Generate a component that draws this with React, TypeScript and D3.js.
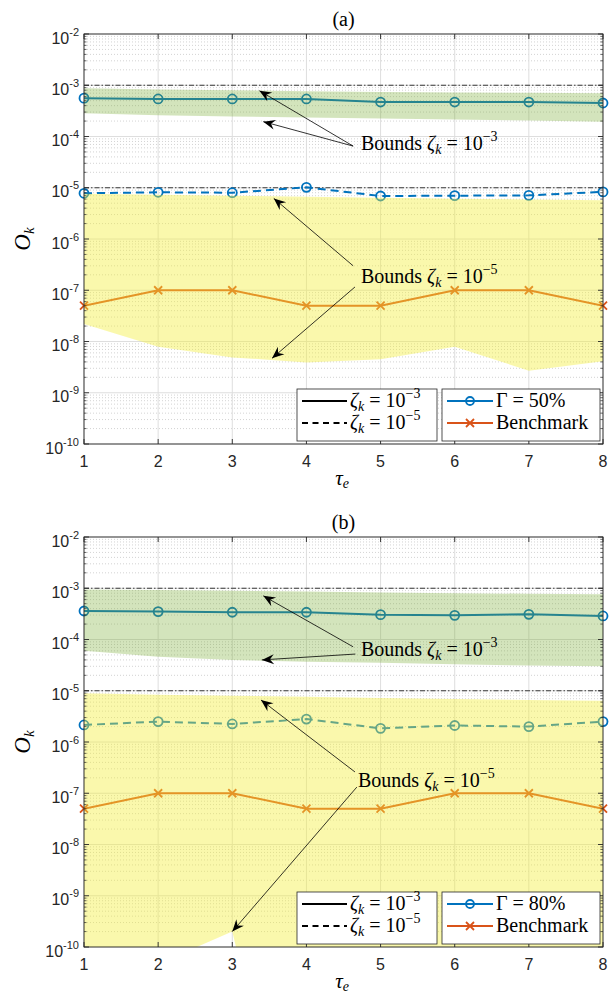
import React from "react";
import * as d3 from "d3";

// x axis: tau_e
const tau = [1, 2, 3, 4, 5, 6, 7, 8];
const yDecades = [-10, -9, -8, -7, -6, -5, -4, -3, -2];
const zetaLevels = [1e-3, 1e-5];

const benchmark = [5e-8, 1e-7, 1e-7, 5e-8, 5e-8, 1e-7, 1e-7, 5e-8];

// panel (a): Gamma = 50%
const gammaA3 = [5.6e-4, 5.4e-4, 5.4e-4, 5.4e-4, 4.7e-4, 4.7e-4, 4.7e-4, 4.5e-4];
const gammaA5 = [7.8e-6, 8.15e-6, 8.0e-6, 1.02e-5, 6.9e-6, 7.0e-6, 7.1e-6, 8.3e-6];
const bandA3Hi = [8.7e-4, 8.3e-4, 8.0e-4, 7.6e-4, 7.4e-4, 7.2e-4, 7.1e-4, 7.0e-4];
const bandA3Lo = [2.85e-4, 2.6e-4, 2.45e-4, 2.35e-4, 2.25e-4, 2.15e-4, 2.05e-4, 1.95e-4];
const bandA5Hi = [7.6e-6, 7.3e-6, 7.0e-6, 6.7e-6, 6.4e-6, 6.1e-6, 5.9e-6, 5.7e-6];
const bandA5Lo = [2.2e-8, 7.9e-9, 4.9e-9, 3.9e-9, 4.5e-9, 7.9e-9, 2.7e-9, 4.1e-9];

// panel (b): Gamma = 80%
const gammaB3 = [3.6e-4, 3.5e-4, 3.4e-4, 3.4e-4, 3.05e-4, 2.96e-4, 3.1e-4, 2.88e-4];
const gammaB5 = [2.15e-6, 2.5e-6, 2.25e-6, 2.8e-6, 1.85e-6, 2.1e-6, 2.0e-6, 2.5e-6];
const bandB3Hi = [9.5e-4, 9.2e-4, 8.9e-4, 8.6e-4, 8.3e-4, 8.0e-4, 7.8e-4, 7.6e-4];
const bandB3Lo = [6.0e-5, 4.6e-5, 4.0e-5, 3.7e-5, 3.5e-5, 3.3e-5, 3.1e-5, 3.0e-5];
const bandB5Hi = [8.9e-6, 8.4e-6, 8.0e-6, 7.6e-6, 7.2e-6, 6.9e-6, 6.6e-6, 6.4e-6];
const bandB5Lo = [1e-11, 4.7e-11, 2e-10, 2e-16, 1e-13, 1e-13, 1e-13, 1e-13];

// annotations: label baseline [tau, value], arrows [tail, tip] in data space
const annotA = [
  { exp: "−3", at: [4.736, 5.45e-5], arrows: [[[4.63, 6.5e-5], [3.366, 7.8e-4]], [[4.63, 6.5e-5], [3.418, 1.95e-4]]] },
  { exp: "−5", at: [4.736, 1.38e-7], arrows: [[[4.63, 3.0e-7], [3.56, 6.2e-6]], [[4.655, 1.16e-7], [3.536, 4.7e-9]]] },
];
const annotB = [
  { exp: "−3", at: [4.736, 4.66e-5], arrows: [[[4.63, 7.2e-5], [3.418, 7.1e-4]], [[4.66, 5.2e-5], [3.40, 4.0e-5]]] },
  { exp: "−5", at: [4.696, 1.32e-7], arrows: [[[4.655, 2.6e-7], [3.387, 6.6e-6]], [[4.68, 1.32e-7], [3.0, 2.0e-10]]] },
];

const W = 609;
const H = 996;
const LEFT = 84;
const RIGHT = 603;
const BLUE = "#0072BD";
const ORANGE = "#D95319";
const AX = "#262626";
const SANS = "'Liberation Sans', Arial, sans-serif";
const SERIF = "'Liberation Serif', 'Times New Roman', serif";

function Panel({ id, title, top, bottom, gammaLabel, g3, g5, b3Hi, b3Lo, b5Hi, b5Lo, annots }) {
  const x = d3.scaleLinear().domain([1, 8]).range([LEFT, RIGHT]);
  const y = d3.scaleLog().domain([1e-10, 1e-2]).range([bottom, top]);
  const line = d3.line().x((d, i) => x(tau[i])).y((d) => y(d));
  const area = (hi, lo) =>
    d3.area().x((d, i) => x(tau[i])).y0((d, i) => y(lo[i])).y1((d) => y(d))(hi);

  const minor = [];
  yDecades.slice(0, -1).forEach((e) => {
    for (let m = 2; m <= 9; m++) minor.push(m * Math.pow(10, e));
  });

  const circles = (vals) =>
    vals.map((v, i) => (
      <circle key={i} cx={x(tau[i])} cy={y(v)} r={4.5} fill="none" stroke={BLUE} strokeWidth={1.8} />
    ));
  const crosses = (vals) =>
    vals.map((v, i) => {
      const cx = x(tau[i]);
      const cy = y(v);
      return (
        <path key={i} d={`M${cx - 4},${cy - 4}L${cx + 4},${cy + 4}M${cx - 4},${cy + 4}L${cx + 4},${cy - 4}`}
          stroke={ORANGE} strokeWidth={1.8} />
      );
    });

  const arrowHead = (x1, y1, x2, y2) => {
    const a = Math.atan2(y2 - y1, x2 - x1);
    const L = 12, w = 5, n = 8;
    const ux = Math.cos(a), uy = Math.sin(a);
    const px = -uy, py = ux;
    const bx = x2 - ux * L, by = y2 - uy * L;
    const nx = x2 - ux * n, ny = y2 - uy * n;
    return `M${x2},${y2}L${bx + px * w},${by + py * w}L${nx},${ny}L${bx - px * w},${by - py * w}Z`;
  };

  const lg = { x1: 297, x2: 437, x3: 442, x4: 600, y1: bottom - 55, y2: bottom - 3 };
  const r1 = bottom - 43;
  const r2 = bottom - 21;

  return (
    <g>
      <defs>
        <clipPath id={id}>
          <rect x={LEFT} y={top} width={RIGHT - LEFT} height={bottom - top} />
        </clipPath>
      </defs>
      <rect x={LEFT} y={top} width={RIGHT - LEFT} height={bottom - top} fill="#fff" />
      {/* grid */}
      {minor.map((v, i) => (
        <line key={"m" + i} x1={LEFT} x2={RIGHT} y1={y(v)} y2={y(v)} stroke="#c8c8c8" strokeWidth={0.8} strokeDasharray="1,2" />
      ))}
      {yDecades.map((e) => (
        <line key={"g" + e} x1={LEFT} x2={RIGHT} y1={y(Math.pow(10, e))} y2={y(Math.pow(10, e))} stroke="#dedede" strokeWidth={1} />
      ))}
      {tau.map((t) => (
        <line key={"gx" + t} x1={x(t)} x2={x(t)} y1={top} y2={bottom} stroke="#dedede" strokeWidth={1} />
      ))}
      {/* reference levels */}
      <g clipPath={`url(#${id})`}>
        {zetaLevels.map((z) => (
          <line key={z} x1={LEFT} x2={RIGHT} y1={y(z)} y2={y(z)} stroke="#3a3a3a" strokeWidth={1} strokeDasharray="5,2,1.5,2" />
        ))}
        <path d={line(g3)} fill="none" stroke={BLUE} strokeWidth={2} />
        <path d={line(g5)} fill="none" stroke={BLUE} strokeWidth={2} strokeDasharray="8,5" />
        <path d={line(benchmark)} fill="none" stroke={ORANGE} strokeWidth={2} />
      </g>
      {circles(g3)}
      {circles(g5)}
      {crosses(benchmark)}
      {/* bound regions drawn on top, transparent */}
      <g clipPath={`url(#${id})`}>
        <path d={area(b3Hi, b3Lo)} fill="#77AC30" fillOpacity={0.32} />
        <path d={area(b5Hi, b5Lo)} fill="#F2EE3A" fillOpacity={0.42} />
      </g>
      {/* axes box + ticks */}
      <rect x={LEFT} y={top} width={RIGHT - LEFT} height={bottom - top} fill="none" stroke={AX} strokeWidth={0.9} />
      {tau.map((t) => (
        <g key={"tx" + t}>
          <line x1={x(t)} x2={x(t)} y1={bottom} y2={bottom - 5} stroke={AX} strokeWidth={0.9} />
          <line x1={x(t)} x2={x(t)} y1={top} y2={top + 5} stroke={AX} strokeWidth={0.9} />
          <text x={x(t)} y={bottom + 23} textAnchor="middle" fontFamily={SANS} fontSize={16} fill={AX}>{t}</text>
        </g>
      ))}
      {minor.map((v, i) => (
        <g key={"mt" + i}>
          <line x1={LEFT} x2={LEFT + 2.5} y1={y(v)} y2={y(v)} stroke={AX} strokeWidth={0.7} />
          <line x1={RIGHT} x2={RIGHT - 2.5} y1={y(v)} y2={y(v)} stroke={AX} strokeWidth={0.7} />
        </g>
      ))}
      {yDecades.map((e) => {
        const yy = y(Math.pow(10, e));
        return (
          <g key={"ty" + e}>
            <line x1={LEFT} x2={LEFT + 5} y1={yy} y2={yy} stroke={AX} strokeWidth={0.9} />
            <line x1={RIGHT} x2={RIGHT - 5} y1={yy} y2={yy} stroke={AX} strokeWidth={0.9} />
            <text x={79} y={yy + 9.5} textAnchor="end" fontFamily={SANS} fontSize={16} fill={AX}>
              10<tspan dy={-8} fontSize={11}>{e}</tspan>
            </text>
          </g>
        );
      })}
      {/* titles and labels */}
      <text x={(LEFT + RIGHT) / 2} y={top - 8} textAnchor="middle" fontFamily={SERIF} fontSize={20} fill="#000">{title}</text>
      <text x={342} y={bottom + 41} textAnchor="middle" fontFamily={SERIF} fontSize={21} fill="#000">
        <tspan fontStyle="italic">τ</tspan><tspan fontStyle="italic" fontSize={14} dy={3}>e</tspan>
      </text>
      <text transform={`translate(30,${(top + bottom) / 2}) rotate(-90)`} textAnchor="middle" fontFamily={SERIF} fontSize={23} fill="#000">
        <tspan fontStyle="italic">O</tspan><tspan fontStyle="italic" fontSize={15} dy={4}>k</tspan>
      </text>
      {/* annotations */}
      {annots.map((a, k) => (
        <g key={"an" + k}>
          {a.arrows.map(([tail, tip], j) => {
            const x1 = x(tail[0]), y1 = y(tail[1]), x2 = x(tip[0]), y2 = y(tip[1]);
            return (
              <g key={j}>
                <line x1={x1} y1={y1} x2={x2} y2={y2} stroke="#000" strokeWidth={0.8} />
                <path d={arrowHead(x1, y1, x2, y2)} fill="#000" />
              </g>
            );
          })}
          <text x={x(a.at[0])} y={y(a.at[1])} fontFamily={SERIF} fontSize={20} fill="#000">
            Bounds <tspan fontStyle="italic">ζ</tspan>
            <tspan fontStyle="italic" fontSize={14} dy={4}>k</tspan>
            <tspan dy={-4}> = 10</tspan>
            <tspan fontSize={14} dy={-9}>{a.exp}</tspan>
          </text>
        </g>
      ))}
      {/* legends */}
      <rect x={lg.x1} y={lg.y1} width={lg.x2 - lg.x1} height={lg.y2 - lg.y1} fill="#fff" stroke={AX} strokeWidth={0.8} />
      <rect x={lg.x3} y={lg.y1} width={lg.x4 - lg.x3} height={lg.y2 - lg.y1} fill="#fff" stroke={AX} strokeWidth={0.8} />
      <line x1={302} x2={347} y1={r1} y2={r1} stroke="#000" strokeWidth={2} />
      <line x1={302} x2={347} y1={r2} y2={r2} stroke="#000" strokeWidth={2} strokeDasharray="6,4.5" />
      {zetaLevels.map((z, i) => (
        <text key={"lz" + i} x={350} y={(i ? r2 : r1) + 6} fontFamily={SERIF} fontSize={20} fill="#000">
          <tspan fontStyle="italic">ζ</tspan>
          <tspan fontStyle="italic" fontSize={14} dy={4}>k</tspan>
          <tspan dy={-4}> = 10</tspan>
          <tspan fontSize={14} dy={-9}>{i ? "−5" : "−3"}</tspan>
        </text>
      ))}
      <line x1={447} x2={493} y1={r1} y2={r1} stroke={BLUE} strokeWidth={2} />
      <circle cx={470} cy={r1} r={4} fill="none" stroke={BLUE} strokeWidth={1.8} />
      <line x1={447} x2={493} y1={r2} y2={r2} stroke={ORANGE} strokeWidth={2} />
      <path d={`M466,${r2 - 4}L474,${r2 + 4}M466,${r2 + 4}L474,${r2 - 4}`} stroke={ORANGE} strokeWidth={1.8} />
      <text x={496} y={r1 + 6} fontFamily={SERIF} fontSize={20} fill="#000">Γ = {gammaLabel}</text>
      <text x={496} y={r2 + 6} fontFamily={SERIF} fontSize={20} fill="#000">Benchmark</text>
    </g>
  );
}

export default function App() {
  return (
    <svg width={W} height={H} style={{ position: "absolute", left: 0, top: 0, background: "#fff" }}>
      <rect width={W} height={H} fill="#fff" />
      <Panel id="ca" title="(a)" top={34} bottom={444} gammaLabel="50%" g3={gammaA3} g5={gammaA5}
        b3Hi={bandA3Hi} b3Lo={bandA3Lo} b5Hi={bandA5Hi} b5Lo={bandA5Lo} annots={annotA} />
      <Panel id="cb" title="(b)" top={537} bottom={947} gammaLabel="80%" g3={gammaB3} g5={gammaB5}
        b3Hi={bandB3Hi} b3Lo={bandB3Lo} b5Hi={bandB5Hi} b5Lo={bandB5Lo} annots={annotB} />
    </svg>
  );
}
